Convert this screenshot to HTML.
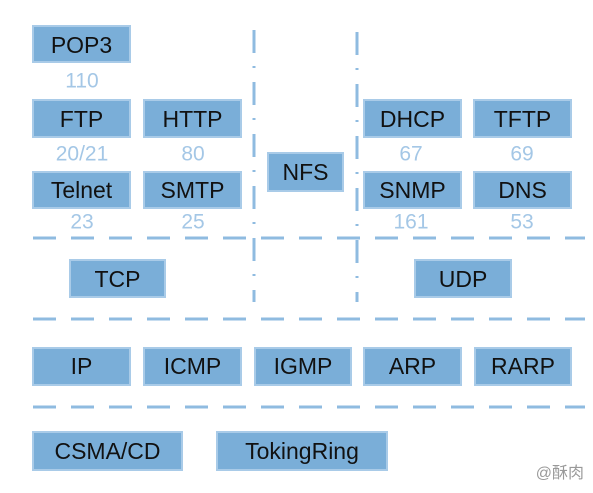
<!DOCTYPE html>
<html><head><meta charset="utf-8"><style>
html,body{margin:0;padding:0;background:#fff;}
svg{display:block}
text{font-family:"Liberation Sans","Noto Sans CJK SC",sans-serif;}
.b{fill:#7aaed8;stroke:#a9cbe8;stroke-width:2}
.t{font-size:23px;fill:#111;text-anchor:middle;dominant-baseline:central}
.n{font-size:21px;fill:#a4c7e6;text-anchor:middle;dominant-baseline:central}
.h{stroke:#8fbbe0;stroke-width:3;stroke-dasharray:23 15}
.v{stroke:#8fbbe0;stroke-width:3;stroke-dasharray:23 13 2 14}
</style></head><body>
<svg width="593" height="493" viewBox="0 0 593 493" xmlns="http://www.w3.org/2000/svg">
<line class="v" x1="254" y1="30" x2="254" y2="302"/>
<line class="v" x1="357" y1="32" x2="357" y2="302"/>
<line class="h" x1="33" y1="238" x2="585" y2="238"/>
<line class="h" x1="33" y1="319" x2="585" y2="319"/>
<line class="h" x1="33" y1="407" x2="585" y2="407"/>

<rect class="b" x="33" y="26" width="97" height="36"/><text class="t" x="81.5" y="45">POP3</text>
<text class="n" x="82" y="81">110</text>
<rect class="b" x="33" y="100" width="97" height="37"/><text class="t" x="81.5" y="119">FTP</text>
<rect class="b" x="144" y="100" width="97" height="37"/><text class="t" x="192.5" y="119">HTTP</text>
<text class="n" x="82" y="154">20/21</text><text class="n" x="193" y="154">80</text>
<rect class="b" x="33" y="172" width="97" height="36"/><text class="t" x="81.5" y="190">Telnet</text>
<rect class="b" x="144" y="172" width="97" height="36"/><text class="t" x="192.5" y="190">SMTP</text>
<text class="n" x="82" y="222">23</text><text class="n" x="193" y="222">25</text>

<rect class="b" x="268" y="153" width="75" height="38"/><text class="t" x="305.5" y="172">NFS</text>

<rect class="b" x="364" y="100" width="97" height="37"/><text class="t" x="412.5" y="119">DHCP</text>
<rect class="b" x="474" y="100" width="97" height="37"/><text class="t" x="522.5" y="119">TFTP</text>
<text class="n" x="411" y="154">67</text><text class="n" x="522" y="154">69</text>
<rect class="b" x="364" y="172" width="97" height="36"/><text class="t" x="412.5" y="190">SNMP</text>
<rect class="b" x="474" y="172" width="97" height="36"/><text class="t" x="522.5" y="190">DNS</text>
<text class="n" x="411" y="222">161</text><text class="n" x="522" y="222">53</text>

<rect class="b" x="70" y="260" width="95" height="37"/><text class="t" x="117.5" y="279">TCP</text>
<rect class="b" x="415" y="260" width="96" height="37"/><text class="t" x="463" y="279">UDP</text>

<rect class="b" x="33" y="348" width="97" height="37"/><text class="t" x="81.5" y="366">IP</text>
<rect class="b" x="144" y="348" width="97" height="37"/><text class="t" x="192.5" y="366">ICMP</text>
<rect class="b" x="255" y="348" width="96" height="37"/><text class="t" x="303" y="366">IGMP</text>
<rect class="b" x="364" y="348" width="97" height="37"/><text class="t" x="412.5" y="366">ARP</text>
<rect class="b" x="475" y="348" width="96" height="37"/><text class="t" x="523" y="366">RARP</text>

<rect class="b" x="33" y="432" width="149" height="38"/><text class="t" x="107.5" y="451">CSMA/CD</text>
<rect class="b" x="217" y="432" width="170" height="38"/><text class="t" x="302" y="451">TokingRing</text>

<text x="584" y="478" style="font-size:16px;fill:#999;text-anchor:end">@酥肉</text>
</svg>
</body></html>
